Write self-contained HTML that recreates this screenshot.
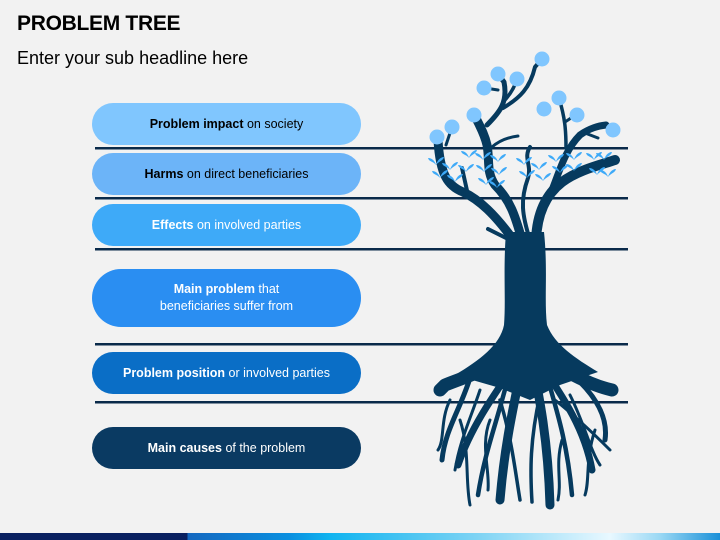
<!DOCTYPE html>
<html><head><meta charset="utf-8"><style>
body{margin:0;background:#f2f2f2;}
.w{position:relative;width:720px;height:540px;overflow:hidden;background:#f2f2f2;font-family:"Liberation Sans",sans-serif;}
h1{position:absolute;left:17px;top:12px;margin:0;font-size:21px;font-weight:bold;color:#000;letter-spacing:-0.3px}
.sub{position:absolute;left:17px;top:48px;font-size:18px;color:#000}
.p{position:absolute;left:92px;width:269px;height:42px;border-radius:21px;display:flex;align-items:center;justify-content:center;text-align:center;font-size:12.5px;line-height:17px;}
.p b{font-weight:bold}
.bar{position:absolute;left:0;top:533px;width:720px;height:7px;background:linear-gradient(90deg,#0a2060 0,#0a2060 187px,#1468c0 188px,#0a90e0 290px,#10b4f0 330px,#80d4f4 480px,#e8f8ff 610px,#9ad8f4 660px,#1a90d8 720px)}
</style></head><body><div class="w">
<h1>PROBLEM TREE</h1>
<div class="sub">Enter your sub headline here</div>
<div class="p" style="top:103px;background:#80c6fe;color:#000"><span><b>Problem impact</b> on society</span></div>
<div class="p" style="top:153px;background:#6cb4f8;color:#000"><span><b>Harms</b> on direct beneficiaries</span></div>
<div class="p" style="top:204px;background:#3eaaf8;color:#fff"><span><b>Effects</b> on involved parties</span></div>
<div class="p" style="top:269px;height:58px;border-radius:29px;background:#2a8ef2;color:#fff"><span><b>Main problem</b> that<br>beneficiaries suffer from</span></div>
<div class="p" style="top:352px;background:#0a6ec6;color:#fff"><span><b>Problem position</b> or involved parties</span></div>
<div class="p" style="top:427px;background:#0a3a62;color:#fff"><span><b>Main causes</b> of the problem</span></div>
<svg width="720" height="540" style="position:absolute;left:0;top:0">
<g fill="#0a2a4a">
<rect x="95" y="147" width="533" height="2.5"/>
<rect x="95" y="197" width="533" height="2.5"/>
<rect x="95" y="248" width="533" height="2.5"/>
<rect x="95" y="343" width="533" height="2.5"/>
<rect x="95" y="401" width="533" height="2.5"/>
</g>
<g fill="none" stroke="#063a5e" stroke-linecap="round" stroke-linejoin="round">
<path d="M512 238 C495 215 480 200 463 192 C448 186 440 175 438 140" stroke-width="9"/>
<path d="M522 240 C515 215 510 200 495 185 C486 172 490 160 487 145 C484 132 478 123 474 114" stroke-width="9"/>
<path d="M487 125 C500 112 508 102 504 82 L498 74" stroke-width="5"/>
<path d="M505 100 C512 92 515 86 517 79" stroke-width="3.5"/>
<path d="M498 90 L485 88" stroke-width="3"/>
<path d="M503 108 C520 98 530 88 535 67 L542 59" stroke-width="4"/>
<path d="M492 147 C500 140 510 137 518 136" stroke-width="3"/>
<path d="M530 240 C522 215 520 200 528 178 C532 165 523 158 530 147" stroke-width="4"/>
<path d="M536 240 C537 215 545 195 562 182 C578 170 600 165 615 160" stroke-width="10"/>
<path d="M552 190 C560 170 565 150 580 135 C590 128 598 126 606 125" stroke-width="7"/>
<path d="M566 148 C566 130 565 118 559 98" stroke-width="3.5"/>
<path d="M565 122 L577 114" stroke-width="3"/>
<path d="M585 133 L598 138" stroke-width="3"/>
<path d="M452 127 L446 145" stroke-width="3"/>
<path d="M468 195 L462 168" stroke-width="4"/>
<path d="M488 229 L506 238" stroke-width="4"/>
<path d="M520 350 C490 370 470 375 445 385 L440 390" stroke-width="13"/>
<path d="M535 350 C560 370 590 385 612 390" stroke-width="13"/>
<path d="M525 350 C515 400 505 440 500 500" stroke-width="9"/>
<path d="M530 350 C540 400 548 440 550 505" stroke-width="9"/>
<path d="M518 360 C490 400 470 430 458 465" stroke-width="7"/>
<path d="M538 360 C565 400 585 430 592 470" stroke-width="7"/>
<path d="M470 378 C460 410 445 430 442 460" stroke-width="5"/>
<path d="M580 382 C598 400 608 420 605 440" stroke-width="5"/>
<path d="M510 370 C498 420 485 450 478 495" stroke-width="4.5"/>
<path d="M545 370 C560 420 568 450 572 495" stroke-width="4.5"/>
<path d="M500 400 C512 440 515 470 520 500" stroke-width="3.5"/>
<path d="M540 395 C530 440 530 470 532 502" stroke-width="3.5"/>
<path d="M460 420 C470 450 465 480 470 505" stroke-width="3"/>
<path d="M595 430 C585 460 590 480 585 495" stroke-width="3"/>
<path d="M450 400 C440 420 445 440 438 450" stroke-width="3"/>
<path d="M555 400 C580 420 600 440 610 450" stroke-width="3"/>
<path d="M490 420 C480 445 490 470 488 490" stroke-width="3"/>
<path d="M562 440 C555 465 562 480 558 500" stroke-width="3"/>
<path d="M480 390 C470 420 460 440 455 470" stroke-width="3"/>
<path d="M570 395 C585 425 590 450 600 465" stroke-width="3"/>
</g>
<path d="M506 232 L544 232 C548 270 544 300 547 325 C555 345 575 358 598 372 L560 385 L530 400 L500 388 L455 375 C480 360 500 345 504 325 C506 300 503 270 506 232Z" fill="#063a5e"/>
<defs><path id="lf" d="M0 0 C3 -4 7 -4 8 -8 C4 -8 1 -4 0 0Z M0 0 C-3 -4 -7 -3 -8 -7 C-4 -7 -1 -4 0 0Z" fill="#3eaaf8"/></defs>
<g>
<use href="#lf" x="436" y="165"/><use href="#lf" x="440" y="178"/><use href="#lf" x="450" y="170"/><use href="#lf" x="455" y="182"/><use href="#lf" x="466" y="172"/><use href="#lf" x="469" y="158"/>
<use href="#lf" x="483" y="160"/><use href="#lf" x="484" y="172"/><use href="#lf" x="486" y="185"/><use href="#lf" x="498" y="162"/><use href="#lf" x="499" y="175"/><use href="#lf" x="497" y="188"/>
<use href="#lf" x="524" y="165"/><use href="#lf" x="527" y="178"/><use href="#lf" x="539" y="170"/><use href="#lf" x="543" y="181"/>
<use href="#lf" x="556" y="162"/><use href="#lf" x="560" y="173"/><use href="#lf" x="574" y="160"/><use href="#lf" x="574" y="171"/>
<use href="#lf" x="594" y="160"/><use href="#lf" x="604" y="160"/><use href="#lf" x="597" y="175"/><use href="#lf" x="608" y="177"/>
</g>
<g fill="#80c6fe">
<circle cx="542" cy="59" r="7.5"/><circle cx="498" cy="74" r="7.5"/><circle cx="517" cy="79" r="7.5"/><circle cx="484" cy="88" r="7.5"/>
<circle cx="474" cy="115" r="7.5"/><circle cx="452" cy="127" r="7.5"/><circle cx="437" cy="137" r="7.5"/><circle cx="559" cy="98" r="7.5"/>
<circle cx="544" cy="109" r="7.5"/><circle cx="577" cy="115" r="7.5"/><circle cx="613" cy="130" r="7.5"/>
</g>
</svg>
<div class="bar"></div>
</div></body></html>
